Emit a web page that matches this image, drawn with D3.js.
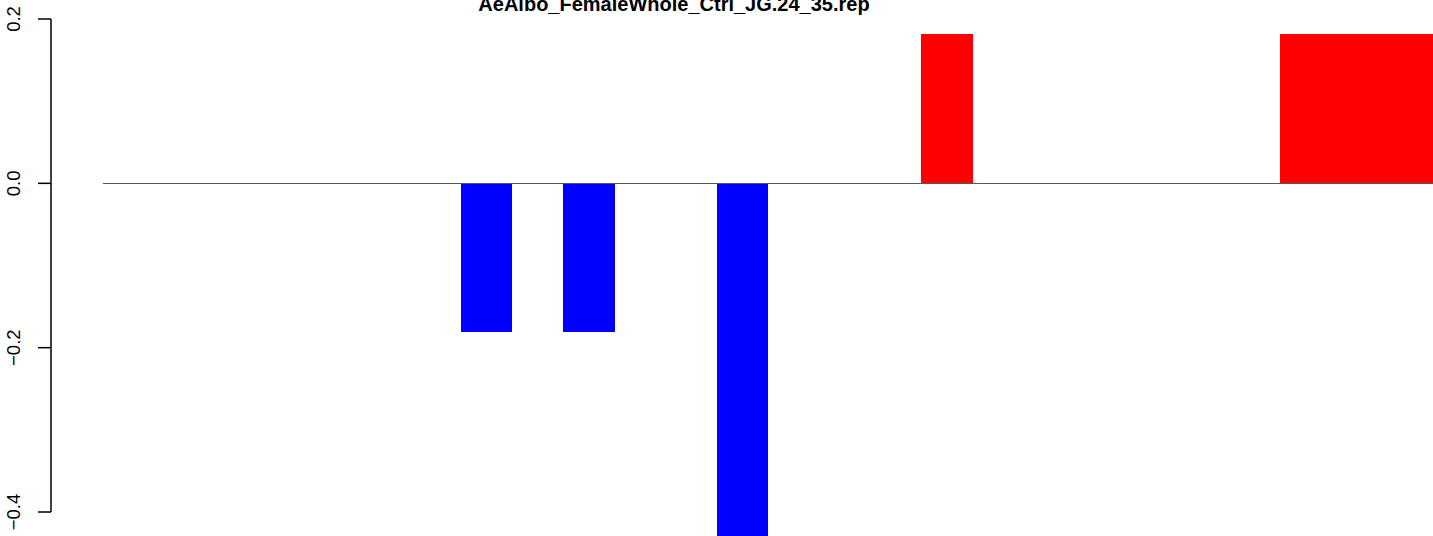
<!DOCTYPE html>
<html>
<head>
<meta charset="utf-8">
<script src="https://cdn.jsdelivr.net/npm/d3@7"></script>
<style>
  html, body { margin: 0; padding: 0; background: #fff; }
  svg { display: block; }
</style>
</head>
<body>
<script>
// ---- data ----
const title = "AeAlbo_FemaleWhole_Ctrl_JG.24_35.rep";
const categories = d3.range(1, 27).map(String);
const values = [0, 0, 0, 0, 0, 0, 0, -0.1818, 0, -0.1818, 0, 0, -0.44, 0, 0, 0, 0.1818, 0, 0, 0, 0, 0, 0, 0.1818, 0.1818, 0.1818];
const yTicks = [-0.4, -0.2, 0.0, 0.2];
const yTickLabels = ["\u22120.4", "\u22120.2", "0.0", "0.2"];

const W = 1433, H = 536;
const svg = d3.select("body").append("svg").attr("width", W).attr("height", H);

const x = d3.scaleBand().domain(categories).range([103, 1433]).padding(0);
const y = d3.scaleLinear().domain([-0.4, 0.2]).range([512, 19]);

// bars
svg.append("g").attr("shape-rendering", "crispEdges")
  .selectAll("rect").data(values.map((v, i) => ({c: categories[i], v})).filter(d => d.v !== 0))
  .join("rect")
  .attr("x", d => Math.round(x(d.c)))
  .attr("width", d => Math.round(x(d.c) + x.bandwidth()) - Math.round(x(d.c)))
  .attr("y", d => Math.round(y(Math.max(0, d.v))))
  .attr("height", d => Math.round(Math.abs(y(d.v) - y(0))))
  .attr("fill", d => d.v > 0 ? "#ff0000" : "#0000ff");

// zero baseline
svg.append("line")
  .attr("x1", 103).attr("x2", W)
  .attr("y1", Math.round(y(0)) + 0.5).attr("y2", Math.round(y(0)) + 0.5)
  .attr("stroke", "#555").attr("stroke-width", 1);

// y axis
const axis = svg.append("g").attr("transform", "translate(51,0)")
  .call(d3.axisLeft(y).tickValues(yTicks).tickSize(13).tickFormat((d, i) => yTickLabels[i]));
axis.select(".domain").attr("stroke", "#000").attr("stroke-width", 1.5).attr("d", `M0,${y(-0.4)}V${y(0.2)}`);
axis.selectAll(".tick").attr("transform", "translate(0,0)");
axis.selectAll(".tick line").attr("stroke", "#000").attr("stroke-width", 1.5)
  .attr("y1", d => y(d)).attr("y2", d => y(d)).attr("x1", 0).attr("x2", -13);
axis.selectAll(".tick text")
  .attr("font-family", "Liberation Sans, Arial, sans-serif")
  .attr("font-size", 18.5)
  .attr("fill", "#000")
  .attr("text-anchor", "middle")
  .attr("x", 0).attr("y", 0).attr("dy", 0)
  .attr("transform", d => `translate(-31,${y(d)}) rotate(-90)`);

// title
svg.append("text")
  .attr("x", 674).attr("y", 11)
  .attr("text-anchor", "middle")
  .attr("font-family", "Liberation Sans, Arial, sans-serif")
  .attr("font-weight", "bold")
  .attr("font-size", 20)
  .attr("fill", "#000")
  .text(title);
</script>
</body>
</html>
